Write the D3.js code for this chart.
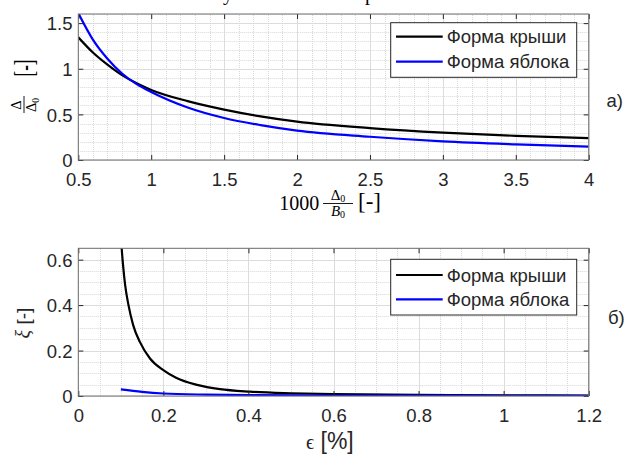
<!DOCTYPE html>
<html><head><meta charset="utf-8">
<script src="https://cdn.jsdelivr.net/npm/d3@7"></script>
<style>body{margin:0;background:#fff} svg{display:block}</style>
</head><body><svg id="c" width="627" height="454"></svg>
<script>
// ---- data ----
const seriesNames = ["Форма крыши", "Форма яблока"];
const seriesColors = ["#000000", "#0000ff"];

// panel a)
const aX = [0.5, 0.6, 0.7, 0.8, 0.9, 1.0, 1.25, 1.5, 1.75, 2.0, 2.5, 3.0, 3.5, 4.0];
const aRoof = [1.344, 1.178, 1.045, 0.93, 0.84, 0.768, 0.645, 0.552, 0.478, 0.42, 0.35, 0.30, 0.265, 0.24];
const aApple = [1.61, 1.32, 1.11, 0.948, 0.832, 0.745, 0.575, 0.46, 0.382, 0.322, 0.255, 0.205, 0.172, 0.146];
const aXTicks = [0.5, 1, 1.5, 2, 2.5, 3, 3.5, 4];
const aYTicks = [0, 0.5, 1, 1.5];

// panel б)
const bRoofX = [0.1, 0.105, 0.11, 0.118, 0.129, 0.145, 0.169, 0.2, 0.231, 0.279, 0.333, 0.404, 0.5, 0.6, 0.8, 1.0, 1.2];
const bRoof = [0.70, 0.58, 0.49, 0.40, 0.312, 0.237, 0.164, 0.114, 0.079, 0.049, 0.030, 0.019, 0.012, 0.008, 0.005, 0.003, 0.002];
const bAppleX = [0.1, 0.15, 0.2, 0.3, 0.4, 0.6, 0.8, 1.0, 1.2];
const bApple = [0.029, 0.018, 0.011, 0.006, 0.004, 0.002, 0.0015, 0.0012, 0.001];
const bXTicks = [0, 0.2, 0.4, 0.6, 0.8, 1, 1.2];
const bYTicks = [0, 0.2, 0.4, 0.6];

// ---- drawing ----
const svg = d3.select("#c");
const SANS = "'Liberation Sans', Arial, Helvetica, sans-serif";
const SERIF = "'Liberation Serif', 'Times New Roman', serif";
const TXT = "#262626";
const fmt = d3.format("~g");

function panel(cfg) {
  const x = d3.scaleLinear().domain(cfg.xDom).range([78.3, 588.7]);
  const y = d3.scaleLinear().domain(cfg.yDom).range(cfg.yRange);
  const g = svg.append("g");
  const [x0, x1] = x.range(), [y0, y1] = y.range();
  const clipId = "clip" + cfg.id;
  svg.append("clipPath").attr("id", clipId).append("rect")
    .attr("x", x0).attr("y", y1).attr("width", x1 - x0).attr("height", y0 - y1);

  // minor grid
  const minorX = d3.range(Math.round((cfg.xDom[1]-cfg.xDom[0])/cfg.xMinor)+1).map(i => cfg.xDom[0] + i*cfg.xMinor);
  const minorY = d3.range(Math.floor((cfg.yDom[1]-cfg.yDom[0])/cfg.yMinor+1e-6)+1).map(i => cfg.yDom[0] + i*cfg.yMinor);
  g.selectAll(".mgx").data(minorX).join("line")
    .attr("x1", d => Math.round(x(d))+0.5).attr("x2", d => Math.round(x(d))+0.5)
    .attr("y1", y0).attr("y2", y1)
    .attr("stroke", "#d8d8d8").attr("stroke-width", 1).attr("stroke-dasharray", "1,1");
  g.selectAll(".mgy").data(minorY).join("line")
    .attr("y1", d => Math.round(y(d))+0.5).attr("y2", d => Math.round(y(d))+0.5)
    .attr("x1", x0).attr("x2", x1)
    .attr("stroke", "#d8d8d8").attr("stroke-width", 1).attr("stroke-dasharray", "1,1");
  // major grid
  g.selectAll(".gx").data(cfg.xTicks).join("line")
    .attr("x1", d => Math.round(x(d))+0.5).attr("x2", d => Math.round(x(d))+0.5)
    .attr("y1", y0).attr("y2", y1).attr("stroke", "#dcdcdc").attr("stroke-width", 1);
  g.selectAll(".gy").data(cfg.yTicks).join("line")
    .attr("y1", d => Math.round(y(d))+0.5).attr("y2", d => Math.round(y(d))+0.5)
    .attr("x1", x0).attr("x2", x1).attr("stroke", "#dcdcdc").attr("stroke-width", 1);

  // curves
  const line = d3.line().x(d => x(d[0])).y(d => y(d[1])).curve(d3.curveMonotoneX);
  cfg.series.forEach((s, i) => {
    g.append("path").datum(d3.zip(s.x, s.y))
      .attr("d", line).attr("fill", "none")
      .attr("stroke", seriesColors[i]).attr("stroke-width", 2.2)
      .attr("clip-path", `url(#${clipId})`);
  });

  // axes
  const ax = (gen, tr, labels) => {
    const a = g.append("g").attr("transform", tr).call(gen);
    a.select(".domain").remove();
    a.selectAll(".tick line").attr("stroke", "#262626").attr("stroke-width", 1);
    a.selectAll("text").attr("fill", TXT).style("font-family", SANS).style("font-size", "18.5px");
    if (!labels) a.selectAll("text").remove();
    return a;
  };
  ax(d3.axisBottom(x).tickValues(cfg.xTicks).tickFormat(fmt).tickSize(-5).tickPadding(13), `translate(0,${y0})`, true);
  ax(d3.axisTop(x).tickValues(cfg.xTicks).tickSize(-5), `translate(0,${y1})`, false);
  ax(d3.axisLeft(y).tickValues(cfg.yTicks).tickFormat(fmt).tickSize(-5).tickPadding(5.8), `translate(${x0},0)`, true)
    .selectAll("text").attr("dy", "0.36em");
  ax(d3.axisRight(y).tickValues(cfg.yTicks).tickSize(-5), `translate(${x1},0)`, false);

  // box
  g.append("rect").attr("x", x0).attr("y", y1).attr("width", x1 - x0).attr("height", y0 - y1)
    .attr("fill", "none").attr("stroke", "#6e6e6e").attr("stroke-width", 1);

  // legend
  const L = cfg.legend;
  const lg = g.append("g");
  lg.append("rect").attr("x", L.x).attr("y", L.y).attr("width", 186).attr("height", L.h)
    .attr("fill", "#fff").attr("stroke", "#262626").attr("stroke-width", 1);
  seriesNames.forEach((n, i) => {
    const ly = L.rows[i];
    lg.append("line").attr("x1", L.x + 5.3).attr("x2", L.x + 52).attr("y1", ly).attr("y2", ly)
      .attr("stroke", seriesColors[i]).attr("stroke-width", 2.2);
    lg.append("text").attr("x", L.x + 56).attr("y", ly + 6.5).text(n)
      .attr("fill", TXT).style("font-family", SANS).style("font-size", "18.5px");
  });
  return { x, y, g };
}

panel({
  id: "a", xDom: [0.5, 4], yDom: [0, 1.6], yRange: [160, 14],
  xTicks: aXTicks, yTicks: aYTicks, xMinor: 0.1, yMinor: 0.1,
  series: [{ x: aX, y: aRoof }, { x: aX, y: aApple }],
  legend: { x: 390.7, y: 22.7, h: 54.6, rows: [36.7, 61.7] }
});
panel({
  id: "b", xDom: [0, 1.2], yDom: [0, 0.65], yRange: [396, 248.3],
  xTicks: bXTicks, yTicks: bYTicks, xMinor: 0.05, yMinor: 0.05,
  series: [{ x: bRoofX, y: bRoof }, { x: bAppleX, y: bApple }],
  legend: { x: 390.7, y: 259.3, h: 55.7, rows: [275, 299.3] }
});

// panel tags
svg.append("text").attr("x", 606.5).attr("y", 107).text("а)")
  .attr("fill", TXT).style("font-family", SANS).style("font-size", "18.5px");
svg.append("text").attr("x", 608).attr("y", 323.5).text("б)")
  .attr("fill", TXT).style("font-family", SANS).style("font-size", "18.5px");

// partially visible caption glyphs at the very top (cut off in the reference as well)
svg.append("text").attr("x", 223).attr("y", -0.5).text("у")
  .attr("fill", "#000").style("font-family", SERIF).style("font-size", "20px");
svg.append("text").attr("x", 365).attr("y", -0.5).text("р")
  .attr("fill", "#000").style("font-family", SERIF).style("font-size", "20px");

// x label a): 1000 Δ0/B0 [-]
const xl = svg.append("g").attr("fill", "#000").style("font-family", SERIF);
xl.append("text").attr("x", 279.3).attr("y", 210).style("font-size", "20px").text("1000");
const num = xl.append("text").attr("x", 338).attr("y", 199.5).attr("text-anchor", "middle").style("font-size", "15px");
num.append("tspan").text("Δ");
num.append("tspan").attr("dy", 2).style("font-size", "10px").text("0");
xl.append("line").attr("x1", 323).attr("x2", 353).attr("y1", 203.5).attr("y2", 203.5).attr("stroke", "#000").attr("stroke-width", 0.9);
const den = xl.append("text").attr("x", 338).attr("y", 216).attr("text-anchor", "middle").style("font-size", "15px");
den.append("tspan").style("font-style", "italic").text("B");
den.append("tspan").attr("dy", 2).style("font-size", "10px").text("0");
xl.append("text").attr("x", 358).attr("y", 209).style("font-size", "23px").text("[-]");

// y label a): Δ/Δ0 [-]
const yl = svg.append("g").attr("transform", "rotate(-90)").attr("fill", "#000").style("font-family", SERIF);
yl.append("text").attr("x", -105).attr("y", 20.5).attr("text-anchor", "middle").style("font-size", "14.5px").text("Δ");
yl.append("line").attr("x1", -113).attr("x2", -96).attr("y1", 24).attr("y2", 24).attr("stroke", "#000").attr("stroke-width", 0.9);
const yd = yl.append("text").attr("x", -105).attr("y", 36).attr("text-anchor", "middle").style("font-size", "14.5px");
yd.append("tspan").text("Δ");
yd.append("tspan").attr("dy", 2.5).style("font-size", "9.5px").text("0");
yl.append("text").attr("x", -68).attr("y", 33.3).attr("text-anchor", "middle").style("font-size", "28px")
  .attr("textLength", 17).attr("lengthAdjust", "spacingAndGlyphs").text("[-]");

// y label б): ξ [-]
const yb = svg.append("g").attr("transform", "rotate(-90)").attr("fill", TXT);
const ybt = yb.append("text").attr("x", -323).attr("y", 30).attr("text-anchor", "middle");
ybt.append("tspan").style("font-family", SERIF).style("font-style", "italic").style("font-size", "20px").text("ξ");
ybt.append("tspan").style("font-family", SANS).style("font-size", "19px").text(" [-]");

// x label б): ϵ [%]
const xb = svg.append("text").attr("x", 306).attr("y", 449).attr("fill", TXT);
xb.append("tspan").style("font-family", SERIF).style("font-size", "20px").text("ϵ");
xb.append("tspan").style("font-family", SANS).style("font-size", "23px").text(" [%]");
</script>
</body></html>
